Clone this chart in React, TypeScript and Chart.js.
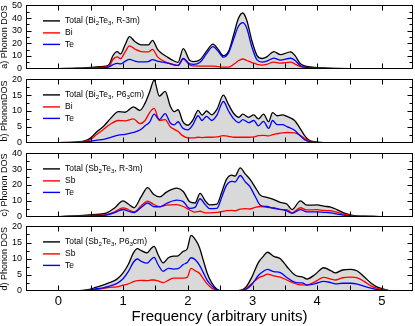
import React, { useEffect, useRef } from "react";
import { Chart, registerables } from "chart.js";
Chart.register(...registerables);

const FAMILY = "'Liberation Sans', Arial, Helvetica, sans-serif";

// ---------- Panel a) Bi2Te3 R-3m ----------
const freqA = [0, 0.3, 0.5, 0.62, 0.74, 0.79, 0.84, 0.91, 0.96, 1.03, 1.10, 1.18, 1.28, 1.39, 1.455, 1.53, 1.59, 1.67, 1.78, 1.85, 1.93, 2.03, 2.09, 2.19, 2.29, 2.39, 2.47, 2.55, 2.63, 2.71, 2.78, 2.85, 2.91, 2.99, 3.07, 3.15, 3.22, 3.33, 3.43, 3.59, 3.66, 3.74, 3.84, 4.0, 4.15, 4.31, 4.5, 5.48];
const totalA = [0, 0.3, 1.0, 1.5, 2.0, 3.5, 10, 13.5, 11.5, 18.7, 25.3, 21.5, 18.8, 18.8, 22.3, 15.5, 12.4, 9.6, 6.2, 5.0, 15.8, 6.5, 5.5, 7.0, 13.8, 19.4, 15.2, 10.2, 13.6, 27, 39.5, 44, 38.5, 22, 10.3, 8.0, 9.3, 13.5, 11, 13.3, 10, 3.8, 1.7, 0.8, 0.4, 0.1, 0, 0];
const biA = [0, 0.2, 0.6, 0.9, 1.2, 2.0, 7.0, 9.3, 7.8, 13.0, 18.0, 15.5, 13.5, 13.2, 15.2, 9.5, 7.0, 5.0, 3.0, 2.5, 7.8, 2.8, 2.1, 2.0, 2.0, 2.0, 1.6, 1.2, 1.2, 3.4, 6.2, 7.6, 6.4, 4.8, 3.4, 2.8, 3.4, 5.2, 4.3, 5.1, 3.6, 1.5, 0.8, 0.35, 0.2, 0.05, 0, 0];
const teA = [0, 0.1, 0.4, 0.6, 0.8, 1.5, 3.0, 4.2, 3.7, 5.7, 7.3, 6.0, 5.3, 5.6, 7.1, 6.0, 5.4, 4.6, 3.2, 2.5, 8.0, 3.7, 3.4, 5.0, 11.8, 17.4, 13.6, 9.0, 12.4, 23.6, 33.3, 36.4, 32.1, 17.2, 6.9, 5.2, 5.9, 8.3, 6.7, 8.2, 6.4, 2.3, 0.9, 0.45, 0.2, 0.05, 0, 0];

// ---------- Panel b) Bi2Te3 P63cm ----------
const freqB = [0, 0.3, 0.43, 0.5, 0.6, 0.7, 0.8, 0.93, 1.03, 1.16, 1.26, 1.34, 1.41, 1.48, 1.56, 1.65, 1.73, 1.79, 1.85, 1.92, 2.0, 2.08, 2.16, 2.22, 2.29, 2.37, 2.45, 2.55, 2.63, 2.71, 2.79, 2.85, 2.94, 3.02, 3.09, 3.17, 3.25, 3.31, 3.38, 3.46, 3.54, 3.65, 3.72, 3.8, 3.87, 3.98, 4.1, 5.48];
const totalB = [0, 0.2, 0.7, 1.5, 3.5, 5.2, 7.5, 9.8, 9.6, 11.3, 10.2, 12.5, 16, 19.8, 14.7, 16.2, 11.5, 9.8, 10.4, 6.8, 5.5, 7.2, 10.2, 8.7, 10.0, 8.8, 10.5, 15.0, 12.0, 9.2, 8.0, 9.0, 8.0, 8.8, 7.5, 9.0, 6.6, 9.5, 8.5, 8.8, 8.2, 7.0, 5.0, 2.4, 0.8, 0.2, 0, 0];
const biB = [0, 0.12, 0.45, 1.0, 2.7, 4.2, 5.8, 7.0, 6.9, 7.5, 6.0, 7.0, 9.5, 10.8, 7.0, 7.3, 5.0, 4.2, 3.5, 2.2, 1.5, 1.5, 1.7, 1.6, 1.7, 1.7, 1.8, 2.2, 2.0, 1.7, 1.7, 1.7, 1.7, 1.8, 2.2, 2.3, 2.1, 2.5, 2.8, 3.1, 3.2, 3.1, 2.5, 1.4, 0.5, 0.1, 0, 0];
const teB = [0, 0.08, 0.25, 0.5, 0.8, 1.0, 1.6, 2.4, 2.6, 3.2, 4.0, 5.3, 6.5, 9.0, 7.3, 9.2, 6.2, 5.6, 6.6, 4.6, 4.0, 5.7, 8.5, 7.0, 8.3, 7.0, 8.7, 13.0, 10.0, 7.5, 6.3, 7.3, 6.3, 7.0, 5.3, 6.7, 4.5, 7.0, 5.7, 5.7, 5.0, 3.9, 2.5, 1.0, 0.3, 0.05, 0, 0];

// ---------- Panel c) Sb2Te3 R-3m ----------
const freqC = [0, 0.33, 0.53, 0.74, 0.87, 1.0, 1.08, 1.17, 1.28, 1.38, 1.47, 1.57, 1.67, 1.83, 1.93, 2.03, 2.11, 2.19, 2.27, 2.34, 2.45, 2.53, 2.6, 2.68, 2.73, 2.81, 2.89, 2.96, 3.04, 3.12, 3.22, 3.33, 3.43, 3.53, 3.61, 3.74, 3.84, 4.0, 4.1, 4.21, 4.31, 4.41, 4.5, 4.6, 4.8, 5.0, 5.48];
const totalC = [0, 0.6, 1.2, 2.2, 5.5, 10, 8, 5.6, 12.6, 18.4, 14.2, 12.5, 15.5, 18, 15.9, 9.4, 8.6, 14.7, 10, 7.4, 7.9, 16.1, 23.7, 26.2, 25.6, 30.8, 26.9, 23.7, 18.7, 13.6, 12.2, 10.8, 9.0, 8.0, 4.4, 10, 7.2, 7.4, 6.6, 6.0, 4.3, 2.4, 1.2, 0.5, 0.2, 0, 0];
const sbC = [0, 0.35, 0.7, 1.2, 3.0, 5.5, 4.5, 3.0, 6.8, 9.8, 7.8, 6.3, 7.2, 7.6, 6.4, 4.2, 2.8, 3.4, 2.4, 2.4, 2.7, 3.2, 3.8, 3.9, 3.7, 4.8, 5.0, 4.8, 5.8, 6.4, 5.8, 5.6, 4.4, 4.4, 2.4, 5.6, 4.2, 4.4, 3.9, 3.7, 2.7, 1.5, 0.8, 0.3, 0.1, 0, 0];
const teC = [0, 0.25, 0.5, 1.0, 2.5, 4.5, 3.5, 2.6, 5.8, 8.6, 6.4, 6.2, 8.3, 10.4, 9.5, 5.2, 5.8, 11.3, 7.6, 5.0, 5.2, 12.9, 19.9, 22.3, 21.9, 26, 21.9, 18.9, 12.9, 7.2, 6.4, 5.2, 4.6, 3.6, 2.0, 4.4, 3.0, 3.0, 2.7, 2.3, 1.6, 0.9, 0.4, 0.2, 0.1, 0, 0];

// ---------- Panel d) Sb2Te3 P63cm ----------
const freqD = [0, 0.33, 0.48, 0.59, 0.69, 0.79, 0.9, 1.0, 1.08, 1.16, 1.22, 1.28, 1.37, 1.44, 1.48, 1.54, 1.62, 1.7, 1.78, 1.85, 1.93, 1.99, 2.05, 2.12, 2.18, 2.24, 2.3, 2.37, 2.45, 2.55, 2.78, 2.89, 2.99, 3.09, 3.17, 3.23, 3.33, 3.43, 3.53, 3.64, 3.71, 3.77, 3.84, 3.97, 4.1, 4.21, 4.28, 4.39, 4.52, 4.62, 4.73, 4.83, 4.93, 5.04, 5.14, 5.48];
const totalD = [0, 0.1, 0.5, 1.2, 1.8, 2.6, 3.6, 5.6, 8.2, 11.8, 13.1, 12.5, 11.8, 13.3, 13.8, 11.3, 8.7, 10.3, 10.8, 10.9, 12.3, 13.0, 17.2, 15.8, 13.5, 9.5, 5.5, 2.5, 0.5, 0, 0.1, 1.0, 4.3, 8.8, 10.8, 12.0, 10.7, 10.0, 7.6, 5.2, 4.5, 4.4, 3.7, 5.2, 7.2, 6.3, 5.6, 6.5, 6.7, 6.2, 4.3, 2.5, 1.2, 0.5, 0, 0];
const sbD = [0, 0.05, 0.25, 0.5, 0.8, 1.1, 1.3, 1.8, 2.2, 2.9, 3.2, 3.3, 3.2, 3.4, 3.4, 3.1, 2.6, 3.3, 4.0, 4.0, 4.0, 4.2, 7.0, 6.2, 5.5, 3.8, 2.2, 0.9, 0.2, 0, 0.05, 0.6, 2.3, 4.0, 4.7, 5.2, 4.7, 4.3, 3.4, 2.4, 2.0, 1.9, 1.9, 2.9, 4.2, 3.7, 3.4, 4.1, 4.3, 4.1, 2.9, 1.6, 0.8, 0.35, 0, 0];
const teD = [0, 0.05, 0.25, 0.7, 1.0, 1.5, 2.3, 3.8, 6.0, 8.9, 9.9, 9.2, 8.6, 9.9, 10.4, 8.2, 6.1, 7.0, 6.8, 6.9, 8.2, 8.8, 10.3, 9.6, 8.0, 5.7, 3.3, 1.6, 0.3, 0, 0.05, 0.4, 2.0, 4.8, 6.1, 6.7, 6.0, 5.7, 4.2, 2.8, 2.5, 2.5, 1.8, 2.3, 3.0, 2.6, 2.2, 2.4, 2.4, 2.1, 1.4, 0.9, 0.4, 0.15, 0, 0];

// ---------- axes / labels ----------
const xMin = -0.5;
const xMax = 5.48;
const xTickLabels = [0, 1, 2, 3, 4, 5];
const xTitle = "Frequency (arbitrary units)";

type Part = [string, boolean];
const labelTotalA: Part[] = [["Total (Bi", false], ["2", true], ["Te", false], ["3", true], [", R-3m)", false]];
const labelTotalB: Part[] = [["Total (Bi", false], ["2", true], ["Te", false], ["3", true], [", P6", false], ["3", true], ["cm)", false]];
const labelTotalC: Part[] = [["Total (Sb", false], ["2", true], ["Te", false], ["3", true], [", R-3m)", false]];
const labelTotalD: Part[] = [["Total (Sb", false], ["2", true], ["Te", false], ["3", true], [", P6", false], ["3", true], ["cm)", false]];

type Panel = {
  freq: number[]; total: number[]; p1: number[]; p2: number[];
  p1Name: string; p2Name: string; totalLabel: Part[];
  yMax: number; yStep: number; yMinor: number; yTitle: string;
  top: number; showX: boolean;
};

const panels: Panel[] = [
  { freq: freqA, total: totalA, p1: biA, p2: teA, p1Name: "Bi", p2Name: "Te", totalLabel: labelTotalA, yMax: 50, yStep: 10, yMinor: 5, yTitle: "a) Phonon DOS", top: 4, showX: false },
  { freq: freqB, total: totalB, p1: biB, p2: teB, p1Name: "Bi", p2Name: "Te", totalLabel: labelTotalB, yMax: 20, yStep: 5, yMinor: 2.5, yTitle: "b) PhononDOS", top: 78, showX: false },
  { freq: freqC, total: totalC, p1: sbC, p2: teC, p1Name: "Sb", p2Name: "Te", totalLabel: labelTotalC, yMax: 40, yStep: 10, yMinor: 5, yTitle: "c) Phonon DOS", top: 152, showX: false },
  { freq: freqD, total: totalD, p1: sbD, p2: teD, p1Name: "Sb", p2Name: "Te", totalLabel: labelTotalD, yMax: 20, yStep: 5, yMinor: 2.5, yTitle: "d) Phonon DOS", top: 225, showX: true },
];

const W = 415;
const PANEL_H = 66;
const PAD = 8;

function drawRich(ctx: CanvasRenderingContext2D, parts: Part[], x: number, y: number, size: number) {
  let cx = x;
  for (const [t, sub] of parts) {
    const s = sub ? size * 0.72 : size;
    ctx.font = `${s}px ${FAMILY}`;
    ctx.fillText(t, cx, sub ? y + size * 0.32 : y);
    cx += ctx.measureText(t).width;
  }
}

function makeFramePlugin(p: Panel) {
  return {
    id: "frameTicksLegend",
    afterDraw(chart: any) {
      const ctx: CanvasRenderingContext2D = chart.ctx;
      const { left, right, top, bottom } = chart.chartArea;
      const xs = chart.scales.x;
      const ys = chart.scales.y;
      ctx.save();
      ctx.strokeStyle = "#000";
      ctx.lineWidth = 1;
      const L = Math.round(left) + 0.5, R = Math.round(right) - 0.5;
      const T = Math.round(top) + 0.5, B = Math.round(bottom) - 0.5;
      ctx.strokeRect(L, T, R - L, B - T);
      ctx.beginPath();
      for (let k = 0; k <= 10; k++) {
        const v = k * 0.5;
        const px = Math.round(xs.getPixelForValue(v)) + 0.5;
        ctx.moveTo(px, T); ctx.lineTo(px, T + 5);
        ctx.moveTo(px, B); ctx.lineTo(px, B - 5);
      }
      const n = Math.round(p.yMax / p.yMinor);
      for (let k = 1; k < n; k++) {
        const v = k * p.yMinor;
        const major = Math.abs(v / p.yStep - Math.round(v / p.yStep)) < 1e-6;
        const len = major ? 5 : 3;
        const py = Math.round(ys.getPixelForValue(v)) + 0.5;
        ctx.moveTo(L, py); ctx.lineTo(L + len, py);
        ctx.moveTo(R, py); ctx.lineTo(R - len, py);
      }
      ctx.stroke();

      const lx0 = left + 17, lx1 = left + 34, tx = left + 39;
      const rows: { color: string; y: number }[] = [
        { color: "#000000", y: top + 15.5 },
        { color: "#ff0000", y: top + 27.5 },
        { color: "#0000ff", y: top + 39 },
      ];
      ctx.lineWidth = 1.4;
      rows.forEach((r) => {
        ctx.strokeStyle = r.color;
        ctx.beginPath();
        ctx.moveTo(lx0, r.y); ctx.lineTo(lx1, r.y);
        ctx.stroke();
      });
      ctx.fillStyle = "#000";
      ctx.textBaseline = "middle";
      ctx.textAlign = "left";
      const fs = 8.5;
      drawRich(ctx, p.totalLabel, tx, rows[0].y, fs);
      ctx.font = `${fs}px ${FAMILY}`;
      ctx.fillText(p.p1Name, tx, rows[1].y);
      ctx.fillText(p.p2Name, tx, rows[2].y);
      ctx.restore();
    },
  };
}

function PanelChart({ p }: { p: Panel }) {
  const ref = useRef<HTMLCanvasElement | null>(null);
  const canvasTop = p.top - PAD;
  const height = p.showX ? 326 - canvasTop : PANEL_H + 2 * PAD;

  useEffect(() => {
    if (!ref.current) return;
    const mk = (ys: number[]) => p.freq.map((x, i) => ({ x, y: ys[i] }));
    const common = { pointRadius: 0, borderWidth: 1.3, tension: 0.4, cubicInterpolationMode: "monotone" as const };
    const xScale: any = {
      type: "linear",
      min: xMin,
      max: xMax,
      display: p.showX,
      grid: { display: false, drawTicks: false },
      border: { display: false },
      afterBuildTicks: (s: any) => { s.ticks = xTickLabels.map((v) => ({ value: v })); },
      ticks: { font: { size: 13, family: FAMILY }, color: "#000", padding: 3, maxRotation: 0, autoSkip: false },
      title: { display: p.showX, text: xTitle, color: "#000", font: { size: 15, family: FAMILY, lineHeight: 1 }, padding: { top: 0, bottom: 2 } },
    };
    if (p.showX) xScale.afterFit = (s: any) => { s.height = 35; };
    const chart = new Chart(ref.current, {
      type: "line",
      data: {
        datasets: [
          { label: "Total", data: mk(p.total), borderColor: "#000000", backgroundColor: "#d9d9d9", fill: "origin", order: 3, ...common },
          { label: p.p1Name, data: mk(p.p1), borderColor: "#ff0000", fill: false, order: 2, ...common },
          { label: p.p2Name, data: mk(p.p2), borderColor: "#0000ff", fill: false, order: 1, ...common },
        ],
      },
      options: {
        responsive: false,
        animation: false,
        events: [],
        layout: { padding: { left: 0, right: 2, top: PAD, bottom: p.showX ? 0 : PAD } },
        plugins: {
          legend: { display: false },
          tooltip: { enabled: false },
          filler: { drawTime: "beforeDatasetsDraw" },
        } as any,
        scales: {
          x: xScale,
          y: {
            type: "linear",
            min: 0,
            max: p.yMax,
            grid: { display: false, drawTicks: false },
            border: { display: false },
            afterFit: (s: any) => { s.width = 26; },
            ticks: { stepSize: p.yStep, font: { size: 9, family: FAMILY }, color: "#000", padding: 4, autoSkip: false },
            title: { display: true, text: p.yTitle, color: "#000", font: { size: 9, family: FAMILY, lineHeight: 1 }, padding: 0 },
          },
        },
      } as any,
      plugins: [makeFramePlugin(p)],
    });
    return () => chart.destroy();
  }, [p]);

  return (
    <canvas
      ref={ref}
      width={W}
      height={height}
      style={{ position: "absolute", left: 0, top: canvasTop, width: W, height, display: "block" }}
    />
  );
}

export default function App() {
  return (
    <div style={{ position: "absolute", left: 0, top: 0, width: W, height: 326, overflow: "hidden", background: "#fff" }}>
      {panels.map((p, i) => (
        <PanelChart key={i} p={p} />
      ))}
    </div>
  );
}
